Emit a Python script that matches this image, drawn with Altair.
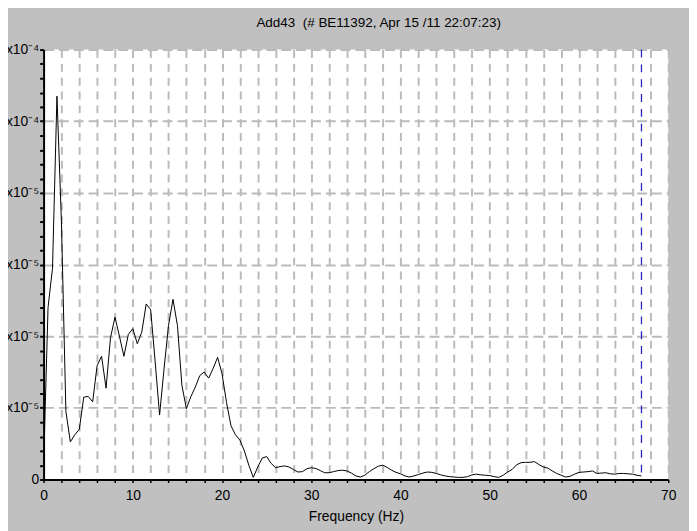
import altair as alt
import pandas as pd

TITLE = "Add43 \u00a0(# BE11392, Apr 15 /11 22:07:23)"
X_TITLE = "Frequency (Hz)"

freq = [0.0, 0.5, 1.0, 1.5, 2.0, 2.5, 3.0, 3.5, 4.0, 4.5, 5.0, 5.5, 6.0, 6.5, 7.0, 7.5,
        8.0, 8.5, 9.0, 9.5, 10.0, 10.5, 11.0, 11.5, 12.0, 12.5, 13.0, 13.5, 14.0, 14.5,
        15.0, 15.5, 16.0, 16.5, 17.0, 17.5, 18.0, 18.5, 19.0, 19.5, 20.0, 20.5, 21.0,
        21.5, 22.0, 22.5, 23.0, 23.5, 24.0, 24.5, 25.0, 25.5, 26.0, 26.5, 27.0, 27.5,
        28.0, 28.5, 29.0, 29.5, 30.0, 30.5, 31.0, 31.5, 32.0, 32.5, 33.0, 33.5, 34.0,
        34.5, 35.0, 35.5, 36.0, 36.5, 37.0, 37.5, 38.0, 38.5, 39.0, 39.5, 40.0, 40.5,
        41.0, 41.5, 42.0, 42.5, 43.0, 43.5, 44.0, 44.5, 45.0, 45.5, 46.0, 46.5, 47.0,
        47.5, 48.0, 48.5, 49.0, 49.5, 50.0, 50.5, 51.0, 51.5, 52.0, 52.5, 53.0, 53.5,
        54.0, 54.5, 55.0, 55.5, 56.0, 56.5, 57.0, 57.5, 58.0, 58.5, 59.0, 59.5, 60.0,
        60.5, 61.0, 61.5, 62.0, 62.5, 63.0, 63.5, 64.0, 64.5, 65.0, 65.5, 66.0, 66.5, 67.0]

# amplitude in units of 1e-5
amp = [0.4, 4.8, 5.9, 10.7, 7.2, 1.9, 1.05, 1.25, 1.4, 2.3, 2.32, 2.17, 3.18, 3.44, 2.55, 3.96,
       4.53, 4.0, 3.44, 4.05, 4.21, 3.79, 4.11, 4.9, 4.74, 3.3, 1.8, 3.09, 4.3, 5.03,
       4.3, 2.63, 1.98, 2.31, 2.58, 2.9, 3.0, 2.83, 3.1, 3.41, 2.95, 2.15, 1.5,
       1.25, 1.1, 0.8, 0.4, 0.06, 0.35, 0.6, 0.64, 0.45, 0.33, 0.36, 0.38, 0.35,
       0.28, 0.21, 0.22, 0.3, 0.33, 0.31, 0.25, 0.19, 0.19, 0.22, 0.25, 0.26, 0.24,
       0.18, 0.1, 0.07, 0.12, 0.22, 0.3, 0.37, 0.40, 0.34, 0.26, 0.2, 0.16, 0.1,
       0.07, 0.1, 0.14, 0.18, 0.21, 0.2, 0.17, 0.13, 0.1, 0.08, 0.07, 0.06, 0.06,
       0.08, 0.13, 0.15, 0.13, 0.12, 0.11, 0.08, 0.06, 0.12, 0.21, 0.28, 0.41, 0.47,
       0.48, 0.48, 0.5, 0.42, 0.35, 0.32, 0.24, 0.17, 0.12, 0.07, 0.09, 0.15, 0.2,
       0.21, 0.22, 0.24, 0.17, 0.18, 0.19, 0.16, 0.15, 0.17, 0.17, 0.16, 0.15, 0.12, 0.1]

marker_freq = [67.0]

y_major = [0.0, 2e-5, 4e-5, 6e-5, 8e-5, 1e-4, 1.2e-4]
y_labels = ["0", "2x10\u207b\u2075", "4x10\u207b\u2075", "6x10\u207b\u2075",
            "8x10\u207b\u2075", "1x10\u207b\u2074", "1.2x10\u207b\u2074"]
y_ticks = [round(i * 4e-6, 12) for i in range(31)]
x_ticks = list(range(0, 71, 2))

df = pd.DataFrame({"f": freq, "a": [v * 1e-5 for v in amp]})
mk = pd.DataFrame({"f": marker_freq})

FONT = "Liberation Sans"

def near(v):
    return f"abs(datum.value - {v!r}) < 1e-9"

label_expr = "''"
for v, t in zip(y_major, y_labels):
    label_expr = f"{near(v)} ? '{t}' : ({label_expr})"
major_test = " || ".join(near(v) for v in y_major)

x_scale = alt.Scale(domain=[0, 70], nice=False, zero=True)
y_scale = alt.Scale(domain=[0, 1.2e-4], nice=False)

line = alt.Chart(df).mark_line(color="black", strokeWidth=1).encode(
    x=alt.X("f:Q", scale=x_scale, title=X_TITLE,
            axis=alt.Axis(values=x_ticks, tickCount=200,
                          labelExpr="datum.value % 10 == 0 ? '' + datum.value : ''",
                          labelOverlap=False,
                          grid=True, gridColor="#bbbbbb", gridWidth=2,
                          gridDash=[8, 6], domainColor="black", domainWidth=2,
                          tickColor="black", tickSize=3, tickWidth=1.5,
                          labelFont=FONT, labelFontSize=14, labelColor="black",
                          labelPadding=6, labelFlush=False,
                          titleFont=FONT, titleFontSize=14, titleFontWeight="normal",
                          titleColor="black", titlePadding=7)),
    y=alt.Y("a:Q", scale=y_scale, title=None,
            axis=alt.Axis(values=y_ticks, tickCount=200, labelExpr=label_expr,
                          grid=True, gridColor="#bbbbbb", gridWidth=2,
                          gridDash=[10, 5],
                          gridOpacity={"condition": {"test": major_test, "value": 1}, "value": 0},
                          domainColor="black", domainWidth=2,
                          tickColor="black", tickSize=4, tickWidth=2,
                          labelFont=FONT, labelFontSize=14, labelColor="black",
                          labelPadding=1, labelFlush=False, labelOverlap=False)),
)

marker = alt.Chart(mk).mark_rule(color="#2626c0", strokeWidth=1.3, strokeDash=[8, 7]).encode(
    x=alt.X("f:Q", scale=x_scale)
)

chart = alt.layer(line, marker).properties(
    width=632, height=435,
    title=alt.TitleParams(TITLE, anchor="middle", frame="group", dx=23,
                          font=FONT, fontSize=13.6, fontWeight="normal", color="black",
                          offset=13),
    background="#c0c0c0",
    padding={"left": 36, "top": 39, "right": 21, "bottom": 49},
    autosize=alt.AutoSizeParams(type="none"),
).configure_view(fill="white", stroke=None)

chart.save("out.html", embed_options={"renderer": "svg", "actions": False})
